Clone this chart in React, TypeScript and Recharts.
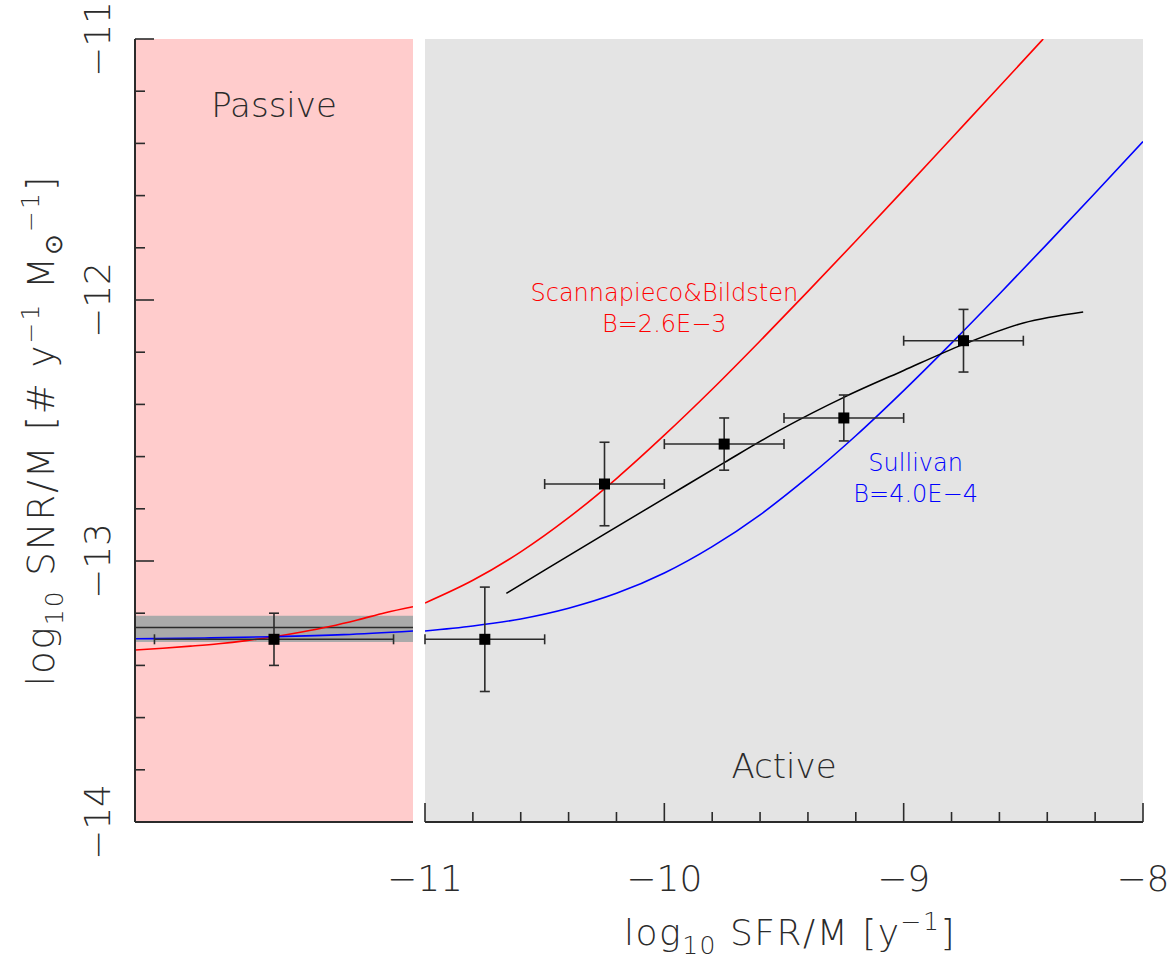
import {
  ComposedChart, Line, Scatter, XAxis, YAxis, ErrorBar,
  ReferenceArea, ReferenceLine, ReferenceDot,
} from 'recharts'

const FONT = "'DejaVu Sans', sans-serif"
const INK = '#2b2b2b'
const RED = '#ff0000'
const BLUE = '#0000ff'

// axis ticks (major every 1, minor every 0.2)
const Y_TICKS = [-14, -13.8, -13.6, -13.4, -13.2, -13, -12.8, -12.6, -12.4, -12.2, -12, -11.8, -11.6, -11.4, -11.2, -11]
const X_TICKS = [-11, -10.8, -10.6, -10.4, -10.2, -10, -9.8, -9.6, -9.4, -9.2, -9, -8.8, -8.6, -8.4, -8.2, -8]

// passive galaxies (compressed sSFR range on the left)
const passivePoint = [{ x: -11.5, y: -13.3, ex: 0.43, ey: 0.1 }]
const passiveBandLo = -13.31
const passiveBandHi = -13.21
const passiveMean = -13.255

const passiveRed = [
  { x: -12, y: -13.341 }, { x: -11.9, y: -13.334 }, { x: -11.8, y: -13.326 },
  { x: -11.7, y: -13.317 }, { x: -11.6, y: -13.305 }, { x: -11.5, y: -13.29 },
  { x: -11.4, y: -13.272 }, { x: -11.3, y: -13.251 }, { x: -11.2, y: -13.226 },
  { x: -11.1, y: -13.198 }, { x: -11, y: -13.175 },
]
const passiveBlue = [
  { x: -12, y: -13.298 }, { x: -11.75, y: -13.295 }, { x: -11.5, y: -13.29 },
  { x: -11.25, y: -13.282 }, { x: -11, y: -13.268 },
]

// star-forming bins
const activePoints = [
  { x: -10.75, y: -13.3, ex: 0.25, ey: 0.2 },
  { x: -10.25, y: -12.705, ex: 0.25, ey: 0.16 },
  { x: -9.75, y: -12.552, ex: 0.25, ey: 0.1 },
  { x: -9.25, y: -12.452, ex: 0.25, ey: 0.088 },
  { x: -8.75, y: -12.156, ex: 0.25, ey: 0.12 },
]

// Scannapieco & Bildsten, B = 2.6E-3
const activeRed = [
  { x: -11, y: -13.161 }, { x: -10.8, y: -13.074 }, { x: -10.6, y: -12.965 },
  { x: -10.4, y: -12.834 }, { x: -10.2, y: -12.684 }, { x: -10, y: -12.518 },
  { x: -9.8, y: -12.342 }, { x: -9.6, y: -12.157 }, { x: -9.4, y: -11.967 },
  { x: -9.2, y: -11.774 }, { x: -9, y: -11.578 }, { x: -8.8, y: -11.38 },
  { x: -8.6, y: -11.182 }, { x: -8.417, y: -11.0 },
]

// Sullivan, B = 4.0E-4
const activeBlue = [
  { x: -11, y: -13.268 }, { x: -10.8, y: -13.249 }, { x: -10.6, y: -13.222 },
  { x: -10.4, y: -13.181 }, { x: -10.2, y: -13.124 }, { x: -10, y: -13.046 },
  { x: -9.8, y: -12.945 }, { x: -9.6, y: -12.823 }, { x: -9.4, y: -12.679 },
  { x: -9.2, y: -12.52 }, { x: -9, y: -12.347 }, { x: -8.8, y: -12.165 },
  { x: -8.6, y: -11.977 }, { x: -8.4, y: -11.785 }, { x: -8.2, y: -11.59 },
  { x: -8, y: -11.393 },
]

// smooth fit through the bins
const activeFit = [
  { x: -10.66, y: -13.124 }, { x: -10.5, y: -13.035 }, { x: -10.25, y: -12.897 },
  { x: -10, y: -12.76 }, { x: -9.75, y: -12.623 }, { x: -9.5, y: -12.49 },
  { x: -9.25, y: -12.373 }, { x: -9, y: -12.27 }, { x: -8.75, y: -12.17 },
  { x: -8.5, y: -12.088 }, { x: -8.25, y: -12.046 },
]

const txt = { fontFamily: FONT, fontWeight: 200 }

// inward tick; integer ticks are longer and may carry a label
// eslint-disable-next-line @typescript-eslint/no-explicit-any
function Tick(props: any) {
  const { x = 0, y = 0, payload, side, labelled } = props
  const v: number = payload?.value ?? 0
  const major = Math.abs(v - Math.round(v)) < 1e-6
  const len = major ? 19 : 10
  let x2 = x
  let y2 = y
  if (side === 'left') x2 = x + len
  if (side === 'right') x2 = x - len
  if (side === 'top') y2 = y + len
  if (side === 'bottom') y2 = y - len
  const text = `\u2212${Math.abs(Math.round(v))}`
  return (
    <g>
      <line x1={x} y1={y} x2={x2} y2={y2} stroke={INK} strokeWidth={1.6} />
      {labelled && major && side === 'bottom' && (
        <text x={x} y={y + 69} textAnchor="middle" fontSize={36} fill={INK} {...txt}>{text}</text>
      )}
      {labelled && major && side === 'left' && (
        <text transform={`translate(${x - 25},${y}) rotate(-90)`} textAnchor="middle" fontSize={36} fill={INK} {...txt}>{text}</text>
      )}
    </g>
  )
}

// eslint-disable-next-line @typescript-eslint/no-explicit-any
function XTitle({ viewBox }: any) {
  const cx = viewBox.x + viewBox.width / 2 + 6
  return (
    <text x={cx} y={viewBox.y + 123} textAnchor="middle" fontSize={36} letterSpacing={1.5} fill={INK} {...txt}>
      log<tspan fontSize={25} dy={9}>10</tspan>
      <tspan dy={-9}> SFR/M [y</tspan>
      <tspan fontSize={25} dy={-15}>{'\u22121'}</tspan>
      <tspan dy={15}>]</tspan>
    </text>
  )
}

// eslint-disable-next-line @typescript-eslint/no-explicit-any
function YTitle({ viewBox }: any) {
  const bx = viewBox.x + 54
  const cy = viewBox.y + viewBox.height / 2
  return (
    <text transform={`translate(${bx},${cy}) rotate(-90)`} textAnchor="middle" fontSize={37} letterSpacing={2} fill={INK} {...txt}>
      log<tspan fontSize={25} dy={9}>10</tspan>
      <tspan dy={-9}> SNR/M [# y</tspan>
      <tspan fontSize={25} dy={-15}>{'\u22121'}</tspan>
      <tspan dy={15}> M</tspan>
      <tspan fontSize={25} dy={8}>{'\u2299'}</tspan>
      <tspan fontSize={25} dy={-23}>{'\u22121'}</tspan>
      <tspan dy={15}>]</tspan>
    </text>
  )
}

// text anchored at a data position (baseline, centred)
// eslint-disable-next-line @typescript-eslint/no-explicit-any
function Caption({ viewBox, text, color, size }: any) {
  return (
    <text x={viewBox.x} y={viewBox.y} textAnchor="middle" fontSize={size} fill={color} {...txt}>{text}</text>
  )
}

// eslint-disable-next-line @typescript-eslint/no-explicit-any
function Square(p: any) {
  return <rect x={p.cx - 5.5} y={p.cy - 5.5} width={11} height={11} fill="#000" />
}

function PassivePanel() {
  return (
    <ComposedChart width={420} height={960} margin={{ top: 39, right: 7, bottom: 0, left: 0 }}>
      <XAxis xAxisId="b" dataKey="x" type="number" domain={[-12, -11]} allowDataOverflow
        height={138} tick={false} tickLine={false} axisLine={{ stroke: INK, strokeWidth: 2 }} />
      <XAxis xAxisId="t" orientation="top" type="number" domain={[-12, -11]} allowDataOverflow
        height={0} tick={false} tickLine={false} axisLine={{ stroke: INK, strokeWidth: 2 }} />
      <YAxis yAxisId="l" dataKey="y" type="number" domain={[-14, -11]} allowDataOverflow
        width={135} ticks={Y_TICKS} interval={0} tickSize={0} tickMargin={0} tickLine={false}
        tick={<Tick side="left" labelled />} axisLine={{ stroke: INK, strokeWidth: 2 }}
        label={<YTitle />} />
      <YAxis yAxisId="r" orientation="right" type="number" domain={[-14, -11]} allowDataOverflow
        width={0} ticks={Y_TICKS} interval={0} tickSize={0} tickMargin={0} tickLine={false}
        tick={<Tick side="right" />} axisLine={{ stroke: INK, strokeWidth: 2 }} />

      <ReferenceArea xAxisId="b" yAxisId="l" x1={-12} x2={-11} y1={-14} y2={-11} fill="#ffcccc" fillOpacity={1} stroke="none" />
      <ReferenceArea xAxisId="b" yAxisId="l" x1={-12} x2={-11} y1={passiveBandLo} y2={passiveBandHi} fill="#aaaaaa" fillOpacity={1} stroke="none" />
      <ReferenceLine xAxisId="b" yAxisId="l" y={passiveMean} stroke={INK} strokeWidth={1.6} />
      <ReferenceDot xAxisId="b" yAxisId="l" x={-11.5} y={-11.299} r={0} fill="none" stroke="none"
        label={<Caption text="Passive" color={INK} size={34} />} />

      <Line xAxisId="b" yAxisId="l" data={passiveRed} dataKey="y" type="monotone" stroke={RED}
        strokeWidth={1.6} dot={false} isAnimationActive={false} />
      <Line xAxisId="b" yAxisId="l" data={passiveBlue} dataKey="y" type="monotone" stroke={BLUE}
        strokeWidth={1.6} dot={false} isAnimationActive={false} />
      <Scatter xAxisId="b" yAxisId="l" data={passivePoint} shape={<Square />} isAnimationActive={false}>
        <ErrorBar dataKey="ex" direction="x" width={5} stroke={INK} strokeWidth={1.6} />
        <ErrorBar dataKey="ey" direction="y" width={5} stroke={INK} strokeWidth={1.6} />
      </Scatter>
    </ComposedChart>
  )
}

function ActivePanel() {
  return (
    <ComposedChart width={813} height={960} margin={{ top: 39, right: 30, bottom: 0, left: 65 }}>
      <XAxis xAxisId="b" dataKey="x" type="number" domain={[-11, -8]} allowDataOverflow
        height={138} ticks={X_TICKS} interval={0} tickSize={0} tickMargin={0} tickLine={false}
        tick={<Tick side="bottom" labelled />} axisLine={{ stroke: INK, strokeWidth: 2 }}
        label={<XTitle />} />
      <XAxis xAxisId="t" orientation="top" type="number" domain={[-11, -8]} allowDataOverflow
        height={0} ticks={X_TICKS} interval={0} tickSize={0} tickMargin={0} tickLine={false}
        tick={<Tick side="top" />} axisLine={{ stroke: INK, strokeWidth: 2 }} />
      <YAxis yAxisId="l" dataKey="y" type="number" domain={[-14, -11]} allowDataOverflow
        width={0} ticks={Y_TICKS} interval={0} tickSize={0} tickMargin={0} tickLine={false}
        tick={<Tick side="left" />} axisLine={{ stroke: INK, strokeWidth: 2 }} />
      <YAxis yAxisId="r" orientation="right" type="number" domain={[-14, -11]} allowDataOverflow
        width={0} ticks={Y_TICKS} interval={0} tickSize={0} tickMargin={0} tickLine={false}
        tick={<Tick side="right" />} axisLine={{ stroke: INK, strokeWidth: 2 }} />

      <ReferenceArea xAxisId="b" yAxisId="l" x1={-11} x2={-8} y1={-14} y2={-11} fill="#e4e4e4" fillOpacity={1} stroke="none" />
      <ReferenceDot xAxisId="b" yAxisId="l" x={-9.5} y={-13.831} r={0} fill="none" stroke="none"
        label={<Caption text="Active" color={INK} size={34} />} />
      <ReferenceDot xAxisId="b" yAxisId="l" x={-10} y={-12.004} r={0} fill="none" stroke="none"
        label={<Caption text="Scannapieco&Bildsten" color={RED} size={24} />} />
      <ReferenceDot xAxisId="b" yAxisId="l" x={-10} y={-12.123} r={0} fill="none" stroke="none"
        label={<Caption text="B=2.6E−3" color={RED} size={24} />} />
      <ReferenceDot xAxisId="b" yAxisId="l" x={-8.95} y={-12.655} r={0} fill="none" stroke="none"
        label={<Caption text="Sullivan" color={BLUE} size={24} />} />
      <ReferenceDot xAxisId="b" yAxisId="l" x={-8.95} y={-12.774} r={0} fill="none" stroke="none"
        label={<Caption text="B=4.0E−4" color={BLUE} size={24} />} />

      <Line xAxisId="b" yAxisId="l" data={activeRed} dataKey="y" type="monotone" stroke={RED}
        strokeWidth={1.6} dot={false} isAnimationActive={false} />
      <Line xAxisId="b" yAxisId="l" data={activeBlue} dataKey="y" type="monotone" stroke={BLUE}
        strokeWidth={1.6} dot={false} isAnimationActive={false} />
      <Line xAxisId="b" yAxisId="l" data={activeFit} dataKey="y" type="monotone" stroke="#000"
        strokeWidth={1.6} dot={false} isAnimationActive={false} />
      <Scatter xAxisId="b" yAxisId="l" data={activePoints} shape={<Square />} isAnimationActive={false}>
        <ErrorBar dataKey="ex" direction="x" width={5} stroke={INK} strokeWidth={1.6} />
        <ErrorBar dataKey="ey" direction="y" width={5} stroke={INK} strokeWidth={1.6} />
      </Scatter>
    </ComposedChart>
  )
}

export default function App() {
  return (
    <div style={{ position: 'absolute', left: 0, top: 0, width: 1173, height: 960, background: '#fff' }}>
      <div style={{ position: 'absolute', left: 0, top: 0 }}>
        <PassivePanel />
      </div>
      <div style={{ position: 'absolute', left: 360, top: 0 }}>
        <ActivePanel />
      </div>
    </div>
  )
}
